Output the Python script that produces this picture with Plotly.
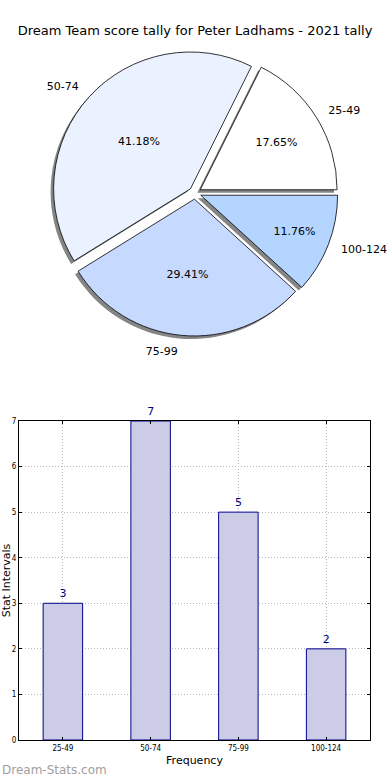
import plotly.graph_objects as go

categories = ["25-49", "50-74", "75-99", "100-124"]
counts = [3, 7, 5, 2]
slice_colors = ["#ffffff", "#eaf2ff", "#c6d9ff", "#b3d5ff"]
title_text = "Dream Team score tally for Peter Ladhams - 2021 tally"
pull = [0.045, 0.045, 0.045, 0.045]

W, H = 390, 780
# pie box (pixels)
cx, cy, half = 195, 193, 143
lab_half = 153


def dom(h, dx=0, dy=0):
    return dict(x=[(cx - h + dx) / W, (cx + h + dx) / W],
                y=[(H - cy - h - dy) / H, (H - cy + h - dy) / H])


# plotly's counterclockwise mode ends the first slice at the rotation angle;
# shift so the first slice starts at 3 o'clock
rot = 90 - 360 * counts[0] / sum(counts)

common = dict(labels=categories, values=counts, sort=False, direction="counterclockwise",
              rotation=rot, pull=pull, hoverinfo="skip", showlegend=False)

fig = go.Figure()

# shadow
fig.add_trace(go.Pie(
    **common, textinfo="none",
    marker=dict(colors=["#858585"] * 4, line=dict(width=0)),
    domain=dom(half, -3, 3),
))
# main pie with percents
fig.add_trace(go.Pie(
    **common, texttemplate="%{percent:.2%}", textposition="inside",
    insidetextorientation="horizontal",
    textfont=dict(family="DejaVu Sans", size=11, color="black"),
    marker=dict(colors=slice_colors, line=dict(color="black", width=0.8)),
    domain=dom(half),
))
# outside labels
fig.add_trace(go.Pie(
    **common, textinfo="label", textposition="outside", automargin=False,
    textfont=dict(family="DejaVu Sans", size=11, color="black"),
    marker=dict(colors=["rgba(0,0,0,0)"] * 4, line=dict(width=0)),
    domain=dom(lab_half),
))

# bar chart
fig.add_trace(go.Bar(
    x=categories, y=counts, width=0.45, text=counts, textposition="outside",
    cliponaxis=False,
    textfont=dict(family="DejaVu Sans", size=11, color="#000080"),
    marker=dict(color="#ccccE6", line=dict(color="#00008b", width=1)),
    xaxis="x", yaxis="y", showlegend=False, hoverinfo="skip",
))

grid = dict(showgrid=True, gridcolor="#b8b8b8", griddash="1px,2px", gridwidth=1)
fig.update_layout(
    width=W, height=H, autosize=False,
    margin=dict(l=0, r=0, t=0, b=0, pad=0, autoexpand=False),
    paper_bgcolor="white", plot_bgcolor="white",
    font=dict(family="DejaVu Sans", color="black"),
    title=dict(text=title_text, x=0.5, xanchor="center", y=1 - 30 / H, yanchor="middle",
               font=dict(size=13, family="DejaVu Sans", color="black")),
    xaxis=dict(domain=[19 / W, 370 / W], range=[-0.5, 3.5], type="category",
               showline=True, linecolor="black", linewidth=1, mirror="ticks",
               ticks="inside", ticklen=3, tickcolor="black", **grid,
               tickfont=dict(size=8, family="DejaVu Sans Condensed"),
               title=dict(text="Frequency", font=dict(size=11), standoff=4),
               anchor="y", automargin=False, fixedrange=True),
    yaxis=dict(domain=[40 / H, 359 / H], range=[0, 7], dtick=1,
               showline=True, linecolor="black", linewidth=1, mirror="ticks",
               ticks="inside", ticklen=3, tickcolor="black", **grid,
               zeroline=False,
               tickfont=dict(size=8, family="DejaVu Sans Condensed"),
               title=dict(text="Stat Intervals", font=dict(size=11), standoff=0),
               anchor="x", automargin=False, fixedrange=True),
    annotations=[dict(text="Dream-Stats.com", x=0, y=1 - 770 / H, xref="paper", yref="paper",
                      xanchor="left", yanchor="middle", showarrow=False,
                      font=dict(size=12, family="DejaVu Sans", color="#a0a0a0"))],
)

fig.write_html("out.html", config={"displayModeBar": False, "responsive": False},
               post_script="document.body.style.margin='0';")
